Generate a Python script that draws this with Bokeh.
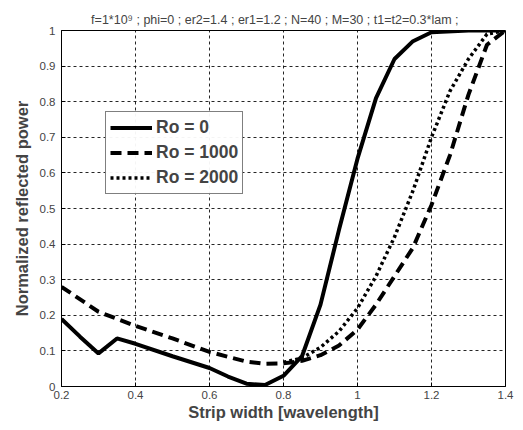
from bokeh.plotting import figure
from bokeh.models import Legend, LegendItem, FixedTicker, Range1d
from bokeh.embed import file_html
from bokeh.resources import INLINE

x_ro0 = [0.2, 0.25, 0.3, 0.35, 0.4, 0.5, 0.6, 0.65, 0.7, 0.75, 0.8, 0.85, 0.9, 0.95, 1.0, 1.05, 1.1, 1.15, 1.2, 1.3, 1.4]
y_ro0 = [0.19, 0.14, 0.093, 0.135, 0.12, 0.085, 0.052, 0.028, 0.008, 0.004, 0.03, 0.085, 0.23, 0.44, 0.64, 0.81, 0.92, 0.97, 0.995, 1.0, 1.0]

x_ro1000 = [0.2, 0.3, 0.4, 0.5, 0.6, 0.7, 0.75, 0.8, 0.85, 0.9, 0.95, 1.0, 1.05, 1.1, 1.15, 1.2, 1.25, 1.3, 1.35, 1.4]
y_ro1000 = [0.28, 0.21, 0.17, 0.135, 0.097, 0.07, 0.064, 0.065, 0.072, 0.088, 0.115, 0.16, 0.23, 0.31, 0.39, 0.51, 0.65, 0.82, 0.96, 1.0]

x_ro2000 = [0.8, 0.85, 0.9, 0.95, 1.0, 1.05, 1.1, 1.15, 1.2, 1.25, 1.3, 1.35, 1.4]
y_ro2000 = [0.068, 0.08, 0.11, 0.155, 0.22, 0.31, 0.42, 0.55, 0.70, 0.83, 0.92, 0.99, 1.0]

x_ticks = [0.2, 0.4, 0.6, 0.8, 1.0, 1.2, 1.4]
x_tick_labels = ["0.2", "0.4", "0.6", "0.8", "1", "1.2", "1.4"]
y_ticks = [0, 0.1, 0.2, 0.3, 0.4, 0.5, 0.6, 0.7, 0.8, 0.9, 1.0]
y_tick_labels = ["0", "0.1", "0.2", "0.3", "0.4", "0.5", "0.6", "0.7", "0.8", "0.9", "1"]

title = "f=1*10\u2079 ;  phi=0 ;  er2=1.4 ;  er1=1.2 ;  N=40 ;  M=30 ; t1=t2=0.3*lam ;"

FONT = "Liberation Sans"

p = figure(width=523, height=430, output_backend="svg", toolbar_location=None,
           x_range=Range1d(0.2, 1.4), y_range=Range1d(0, 1),
           min_border_left=61, min_border_right=18, min_border_top=30, min_border_bottom=44)
p.title.text = title
p.title.text_font = FONT
p.title.text_font_size = "12.5px"
p.title.text_font_style = "normal"
p.title.align = "center"
p.title.standoff = 8

p.outline_line_color = "black"
p.outline_line_width = 1
p.background_fill_color = "white"
p.border_fill_color = "white"

for ax in (p.xaxis[0], p.yaxis[0]):
    ax.major_tick_in = 4
    ax.major_tick_out = 0
    ax.minor_tick_line_color = None
    ax.major_label_text_font = FONT
    ax.major_label_text_font_size = "11.5px"
    ax.axis_label_text_font = FONT
    ax.axis_label_text_font_size = "16.5px"
    ax.axis_label_text_font_style = "bold"
    ax.axis_line_color = "black"

p.xaxis[0].ticker = FixedTicker(ticks=x_ticks)
p.xaxis[0].major_label_overrides = {t: l for t, l in zip(x_ticks, x_tick_labels)}
p.yaxis[0].ticker = FixedTicker(ticks=y_ticks)
p.yaxis[0].major_label_overrides = {t: l for t, l in zip(y_ticks, y_tick_labels)}
p.xaxis[0].axis_label = "Strip width [wavelength]"
p.yaxis[0].axis_label = "Normalized reflected power"
p.xaxis[0].major_label_standoff = 4
p.yaxis[0].major_label_standoff = 6
p.xaxis[0].axis_label_standoff = 1
p.yaxis[0].axis_label_standoff = 6

p.xgrid.ticker = FixedTicker(ticks=x_ticks)
p.ygrid.ticker = FixedTicker(ticks=y_ticks)
for g in (p.xgrid[0], p.ygrid[0]):
    g.grid_line_color = "black"
    g.grid_line_dash = "3 3"
    g.grid_line_width = 1
    g.grid_line_alpha = 0.85

r0 = p.line(x_ro0, y_ro0, line_color="black", line_width=4)
r1 = p.line(x_ro1000, y_ro1000, line_color="black", line_width=4, line_dash="11 6")
r2 = p.line(x_ro2000, y_ro2000, line_color="black", line_width=3.5, line_dash="3 3")

legend = Legend(items=[LegendItem(label="Ro = 0", renderers=[r0]),
                       LegendItem(label="Ro = 1000", renderers=[r1]),
                       LegendItem(label="Ro = 2000", renderers=[r2])],
                location=(44, 192))
legend.label_text_font = FONT
legend.label_text_font_size = "17.5px"
legend.label_text_font_style = "bold"
legend.border_line_color = "black"
legend.border_line_width = 1
legend.glyph_width = 42
legend.label_standoff = 4
legend.spacing = 2
legend.padding = 4
legend.margin = 0
legend.label_height = 23
legend.glyph_height = 23
p.add_layout(legend, "center")

open("out.html", "w").write(file_html(p, INLINE))
